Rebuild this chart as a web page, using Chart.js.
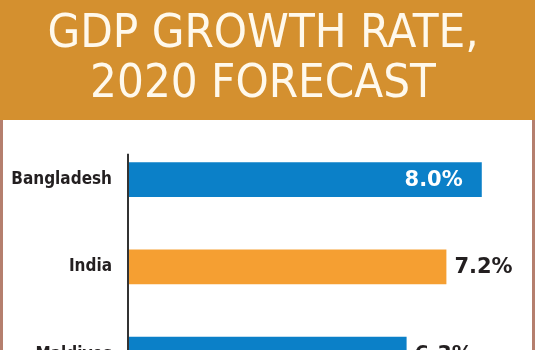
<!DOCTYPE html>
<html>
<head>
<meta charset="utf-8">
<script src="https://cdn.jsdelivr.net/npm/chart.js@4"></script>
<style>
  html, body { margin: 0; padding: 0; overflow: hidden; background: #fff; }
  #gdpChart { display: block; }
</style>
</head>
<body>
<!-- taller than the window on purpose: the reference is cropped at the bottom -->
<canvas id="gdpChart" width="535" height="424"></canvas>
<script>
// data
const countries = ["Bangladesh", "India", "Maldives"];
const growthRates = [8.0, 7.2, 6.3];
const barColors = ["#0B80C8", "#F59F32", "#0B80C8"];
const titleLines = ["GDP GROWTH RATE,", "2020 FORECAST"];

const BAND_HEIGHT = 120;

// orange band behind the title + brown frame around the white box
const framePlugin = {
  id: "frame",
  beforeDraw(chart) {
    const ctx = chart.ctx;
    const w = chart.width, h = chart.height;
    ctx.save();
    ctx.fillStyle = "#fff";
    ctx.fillRect(0, 0, w, h);
    ctx.fillStyle = "#D4902F";
    ctx.fillRect(0, 0, w, BAND_HEIGHT);
    ctx.fillStyle = "#B57F6E";
    ctx.fillRect(0, BAND_HEIGHT, 3, h - BAND_HEIGHT);
    ctx.fillRect(w - 3, BAND_HEIGHT, 3, h - BAND_HEIGHT);
    ctx.restore();
  }
};

// axis line, starts a bit above the first bar
const axisLinePlugin = {
  id: "axisLine",
  afterDatasetsDraw(chart) {
    const ctx = chart.ctx;
    const x = chart.scales.x.getPixelForValue(0);
    const top = chart.scales.y.getPixelForValue(0) - 26;
    ctx.save();
    ctx.strokeStyle = "#333";
    ctx.lineWidth = 2;
    ctx.beginPath();
    ctx.moveTo(x, top);
    ctx.lineTo(x, chart.chartArea.bottom);
    ctx.stroke();
    ctx.restore();
  }
};

// value labels: outside the bar, or inside in white when they would overflow
const valueLabelPlugin = {
  id: "valueLabels",
  afterDatasetsDraw(chart) {
    const ctx = chart.ctx;
    const meta = chart.getDatasetMeta(0);
    ctx.save();
    ctx.font = "bold 21px 'DejaVu Sans', sans-serif";
    ctx.textBaseline = "middle";
    meta.data.forEach((bar, i) => {
      const text = growthRates[i].toFixed(1) + "%";
      const tw = ctx.measureText(text).width;
      if (bar.x + 8 + tw > chart.width - 8) {
        ctx.fillStyle = "#fff";
        ctx.textAlign = "right";
        ctx.fillText(text, bar.x - 19, bar.y + 1);
      } else {
        ctx.fillStyle = "#231F20";
        ctx.textAlign = "left";
        ctx.fillText(text, bar.x + 8, bar.y + 1);
      }
    });
    ctx.restore();
  }
};

const config = {
  type: "bar",
  data: {
    labels: countries,
    datasets: [
      {
        data: growthRates,
        backgroundColor: barColors,
        borderWidth: 0,
        barPercentage: 0.4,
        categoryPercentage: 1,
      },
    ],
  },
  options: {
    indexAxis: "y",
    responsive: false,
    animation: false,
    layout: {
      padding: { left: 0, right: 9, top: 0, bottom: 0 },
    },
    plugins: {
      legend: { display: false },
      tooltip: { enabled: false },
      title: {
        display: true,
        text: titleLines,
        color: "#FFF9EC",
        font: {
          family: "'DejaVu Sans Condensed', sans-serif",
          size: 47,
          weight: "normal",
          lineHeight: 1.064,
        },
        padding: { top: 10, bottom: 26 },
      },
    },
    scales: {
      x: {
        display: false,
        min: 0,
        max: 9,
      },
      y: {
        grid: { display: false, drawTicks: false },
        border: { display: false },
        ticks: {
          color: "#231F20",
          padding: 16,
          font: {
            family: "'DejaVu Sans Condensed', sans-serif",
            size: 17,
            weight: "bold",
          },
        },
        afterFit(scale) {
          scale.width = 128;
        },
      },
    },
  },
  plugins: [framePlugin, axisLinePlugin, valueLabelPlugin],
};

new Chart(document.getElementById("gdpChart"), config);
</script>
</body>
</html>
